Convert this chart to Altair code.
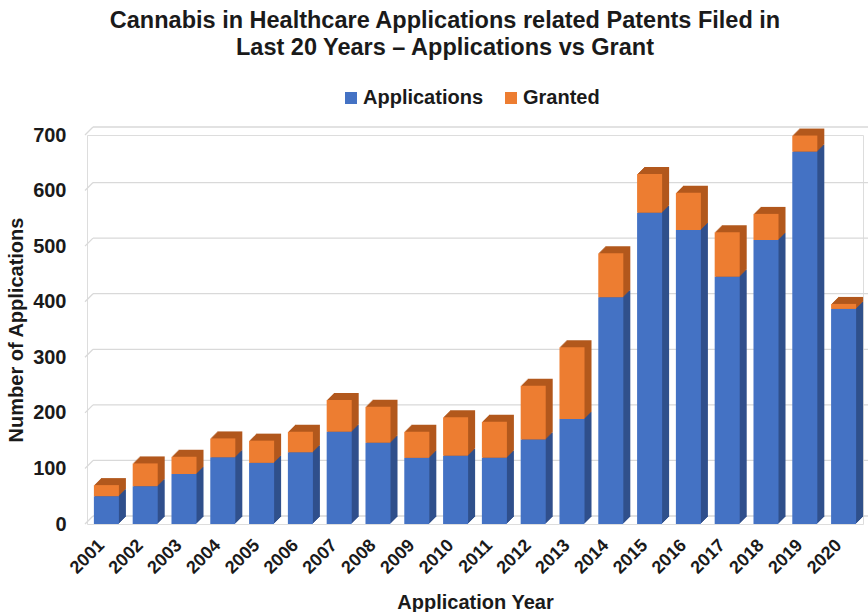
import altair as alt
import pandas as pd

# Patent counts per application year
years = [str(y) for y in range(2001, 2021)]
applications = [50, 68, 90, 120, 110, 129, 166, 146, 119, 123,
                119, 152, 189, 408, 560, 529, 445, 511, 670, 387]
granted = [20, 41, 31, 34, 40, 37, 57, 65, 47, 69,
           65, 97, 129, 79, 70, 67, 80, 47, 29, 9]
series_names = ["Applications", "Granted"]
y_ticks = [0, 100, 200, 300, 400, 500, 600, 700]

FONT = "Liberation Sans"
INK = "#1a1a1a"
FRONT = ["#4472C4", "#ED7D31"]
SHADE = {"Applications": "#30508C", "Granted": "#B2581D"}
DEPTH = 7          # oblique depth of the pseudo-3D columns, in pixels
WALL = 8           # depth of the back wall carrying the gridlines
W, H = 776, 389

rows = []
for yr, a, g in zip(years, applications, granted):
    rows.append({"year": yr, "series": series_names[0], "lo": 0, "hi": a})
    rows.append({"year": yr, "series": series_names[1], "lo": a, "hi": a + g})
bars = pd.DataFrame(rows)
grid = pd.DataFrame({"v": y_ticks})

x_scale = alt.Scale(domain=years, paddingInner=0.355, paddingOuter=0.1775)
y_scale = alt.Scale(domain=[0, 700], nice=False, zero=True)

x_enc = alt.X(
    "year:O", scale=x_scale, sort=years,
    axis=alt.Axis(
        title="Application Year", labelAngle=-45, labelFont=FONT,
        labelFontSize=18, labelFontWeight="bold", labelColor=INK,
        labelPadding=12, labelOffset=-11, domain=False, ticks=False,
        titleFont=FONT, titleFontSize=20, titleFontWeight="bold",
        titleColor=INK, titlePadding=15,
    ),
)
y_axis = alt.Axis(
    title="Number of Applications", values=y_ticks, grid=False,
    domain=False, ticks=False, labelFont=FONT, labelFontSize=20,
    labelFontWeight="bold", labelColor=INK, labelPadding=21,
    titleFont=FONT, titleFontSize=20, titleFontWeight="bold",
    titleColor=INK, titlePadding=6,
)

base = alt.Chart(bars)

# Back-wall gridlines and the short receding segments at their left ends
back_grid = alt.Chart(grid).mark_rule(color="#d9d9d9", strokeWidth=1.3, yOffset=-WALL).encode(
    y=alt.Y("v:Q", scale=y_scale, axis=y_axis),
    x=alt.value(WALL - 2), x2=alt.value(W + 6),
)
side_grid = alt.Chart(grid).mark_rule(color="#d9d9d9", strokeWidth=1.3, y2Offset=-WALL).encode(
    y=alt.Y("v:Q", scale=y_scale), y2="v:Q",
    x=alt.value(-2), x2=alt.value(WALL - 2),
)

shade_color = alt.condition(
    alt.datum.series == "Applications",
    alt.value(SHADE["Applications"]), alt.value(SHADE["Granted"]),
)

# Extruded depth: stacked copies shifted up and to the right
depth_layers = []
for k in range(DEPTH, 0, -1):
    depth_layers.append(
        base.mark_bar(xOffset=k, x2Offset=k, yOffset=-k, y2Offset=-k).encode(
            x=x_enc,
            y=alt.Y("hi:Q", scale=y_scale),
            y2="lo:Q",
            color=shade_color,
        )
    )

front = base.mark_bar().encode(
    x=x_enc,
    y=alt.Y("hi:Q", scale=y_scale),
    y2="lo:Q",
    color=alt.Color(
        "series:N",
        scale=alt.Scale(domain=series_names, range=FRONT),
        legend=alt.Legend(
            title=None, orient="none", direction="horizontal",
            legendX=254, legendY=-47, symbolType="square", symbolSize=144,
            symbolStrokeWidth=0, labelFont=FONT, labelFontSize=20,
            labelFontWeight="bold", labelColor=INK, columnPadding=17,
            labelOffset=2,
        ),
    ),
)

chart = alt.layer(back_grid, side_grid, *depth_layers, front).properties(
    width=W,
    height=H,
    autosize=alt.AutoSizeParams(type="none"),
    padding={"left": 87, "top": 135, "right": 5, "bottom": 88},
    title=alt.TitleParams(
        text=["Cannabis in Healthcare Applications related Patents Filed in",
              "Last 20 Years \u2013 Applications vs Grant"],
        font=FONT, fontSize=23.5, fontWeight="bold", color=INK,
        anchor="middle", lineHeight=27, offset=29, dx=-30,
    ),
).configure_view(stroke=None).configure(background="white")

chart.save("out.html", embed_options={"renderer": "svg", "actions": False})
